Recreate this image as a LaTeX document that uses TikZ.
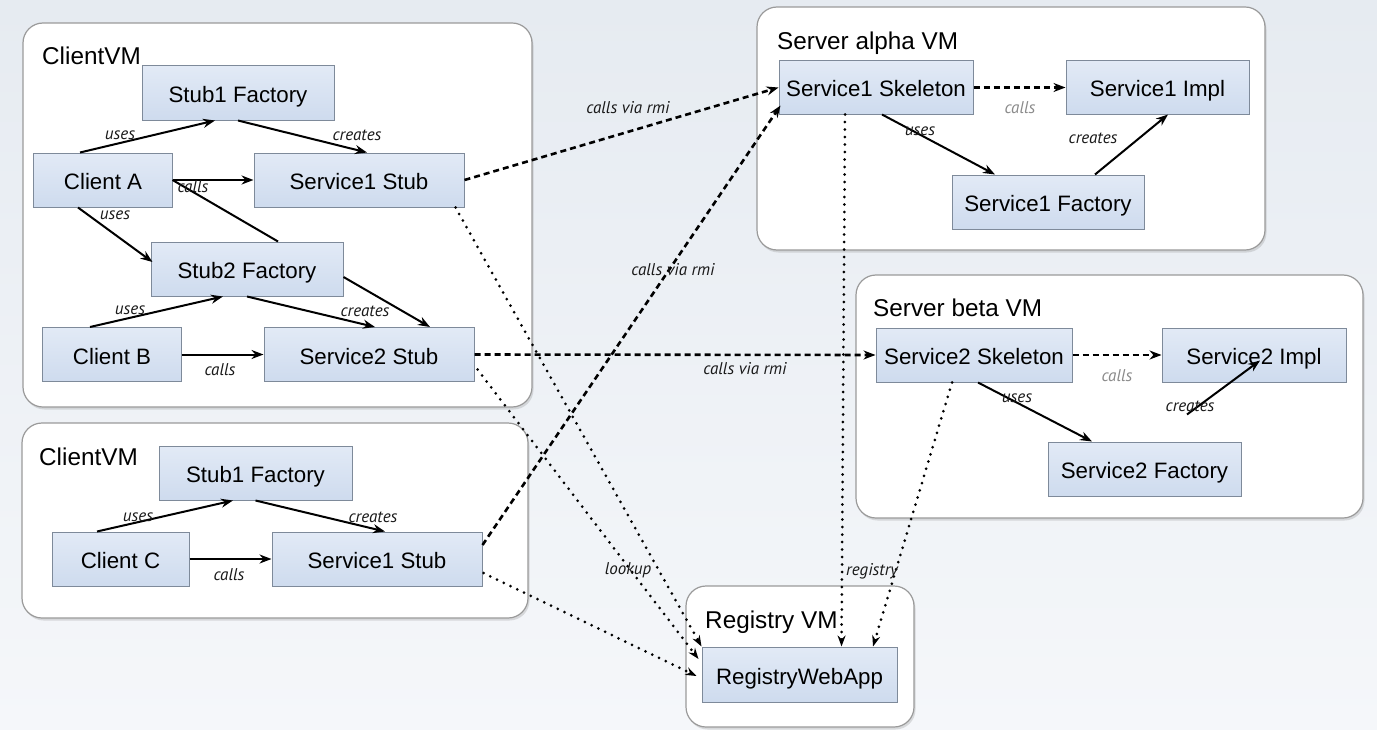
\documentclass[tikz,border=0pt]{standalone}
\usepackage{fontspec}
\setmainfont{Liberation Sans}
\newfontfamily\lblfont{PT Sans}
\usetikzlibrary{arrows.meta,calc,shadows}
\definecolor{boxtop}{HTML}{E2EAF6}
\definecolor{boxbot}{HTML}{CEDBEE}
\definecolor{boxline}{HTML}{7E8A9A}
\definecolor{vmline}{HTML}{9A9A9A}
\definecolor{bgA}{HTML}{E6EBF1}
\definecolor{bgB}{HTML}{F5F7FA}
\definecolor{lblgray}{HTML}{8A8A8A}
\begin{document}
\begin{tikzpicture}[x=1bp,y=-1bp,
  box/.style={draw=boxline, line width=1bp, top color=boxtop, bottom color=boxbot, minimum height=54bp, inner sep=0pt, text height=19bp, text depth=0pt, font=\fontsize{22.3bp}{26bp}\selectfont},
  vm/.style={draw=vmline, line width=1.2bp, fill=white, rounded corners=20bp, inner sep=0pt, drop shadow={shadow xshift=1.5bp, shadow yshift=-2.5bp, opacity=0.25}},
  vmtitle/.style={anchor=base west, inner sep=0pt, font=\fontsize{24.3bp}{28bp}\selectfont},
  lbl/.style={inner sep=0pt, text=black!90, font=\lblfont\itshape\fontsize{17bp}{20bp}\selectfont},
  glbl/.style={lbl, text=lblgray},
  arr/.style={line width=2bp, -{Stealth[length=12bp,width=9bp]}},
  plain/.style={line width=2bp},
  rmi/.style={line width=2.6bp, dash pattern=on 6bp off 4bp, -{Stealth[length=12bp,width=9bp]}},
  dots/.style={line width=3bp, line cap=round, dash pattern=on 0bp off 7.5bp, -{Stealth[length=11bp,width=8bp]}},
]
\useasboundingbox (0,0) rectangle (1377,729);
\fill[top color=bgA, bottom color=bgB] (0,0) rectangle (1377,729);

% containers
\node[vm, minimum width=509bp, minimum height=384bp] (vm1) at (277.5,215) {};
\node[vm, minimum width=506bp, minimum height=195bp] (vm2) at (275,520.5) {};
\node[vm, minimum width=508bp, minimum height=243bp] (vma) at (1011,128.5) {};
\node[vm, minimum width=507bp, minimum height=243bp] (vmb) at (1109.5,396.5) {};
\node[vm, minimum width=228bp, minimum height=141bp] (vmr) at (800,656.5) {};

% titles
\node[vmtitle] (t1) at (42,65) {ClientVM};
\node[vmtitle] (t2) at (39,465) {ClientVM};
\node[vmtitle] (ta) at (777,50) {Server alpha VM};
\node[vmtitle] (tb) at (873,316) {Server beta VM};
\node[vmtitle] (tr) at (705,628) {Registry VM};

% boxes
\node[box, minimum width=192bp] (sf1) at (238,93) {Stub1 Factory};
\node[box, minimum width=138bp] (ca) at (103,180) {Client A};
\node[box, minimum width=210bp] (s1s) at (359,180) {Service1 Stub};
\node[box, minimum width=192bp] (sf2) at (247,269) {Stub2 Factory};
\node[box, minimum width=138bp] (cb) at (112,354.5) {Client B};
\node[box, minimum width=210bp] (s2s) at (369,354.5) {Service2 Stub};
\node[box, minimum width=193bp] (sf3) at (255.5,473) {Stub1 Factory};
\node[box, minimum width=137bp] (cc) at (120.5,559) {Client C};
\node[box, minimum width=210bp] (s1t) at (377,559) {Service1 Stub};
\node[box, minimum width=194bp, minimum height=53bp] (sk1) at (876,87.5) {Service1 Skeleton};
\node[box, minimum width=183bp, minimum height=53bp] (im1) at (1157.5,87.5) {Service1 Impl};
\node[box, minimum width=192bp] (fa1) at (1048,202) {Service1 Factory};
\node[box, minimum width=196bp] (sk2) at (974,355) {Service2 Skeleton};
\node[box, minimum width=184bp] (im2) at (1254,355) {Service2 Impl};
\node[box, minimum width=193bp] (fa2) at (1144.5,469) {Service2 Factory};
\node[box, minimum width=195bp, minimum height=55bp] (rw) at (799.5,674.5) {RegistryWebApp};

% client VM 1
\draw[arr] ($(ca.north)+(-23,0)$) -- ($(sf1.south)+(-23,0)$);
\draw[arr] (sf1.south) -- ($(s1s.north)+(8,0)$);
\draw[arr] (ca.east) -- (s1s.west);
\draw[plain] (ca.east) -- ($(sf2.north)+(31,0)$);
\draw[arr] ($(ca.south)+(-25,0)$) -- ($(sf2.west)+(2,-7)$);
\draw[arr] ($(cb.north)+(-22,0)$) -- ($(sf2.south)+(-24,0)$);
\draw[arr] (sf2.south) -- ($(s2s.north)+(6,0)$);
\draw[arr] ($(sf2.east)+(0,8)$) -- ($(s2s.north)+(61,0)$);
\draw[arr] (cb.east) -- (s2s.west);
% client VM 2
\draw[arr] ($(cc.north)+(-23.5,0)$) -- ($(sf3.south)+(-22.5,0)$);
\draw[arr] (sf3.south) -- ($(s1t.north)+(8,0)$);
\draw[arr] (cc.east) -- (s1t.west);
% server alpha
\draw[rmi] (sk1.east) -- (im1.west);
\draw[arr] ($(sk1.south)+(6,0)$) -- ($(fa1.north)+(-53,0)$);
\draw[arr] ($(fa1.north)+(47,0)$) -- ($(im1.south)+(10.5,0)$);
% server beta
\draw[rmi] (sk2.east) -- (im2.west);
\draw[arr] ($(sk2.south)+(4,0)$) -- ($(fa2.north)+(-52.5,0)$);
\coordinate (cr2) at ($(fa2.north)+(42.5,-27)$);
\draw[arr] (cr2) -- ($(im2.south)+(6,-22)$);
% rmi calls
\draw[rmi] (s1s.east) -- (sk1.west);
\draw[rmi] (s2s.east) -- (sk2.west);
\draw[rmi] ($(s1t.east)+(0,-14)$) -- ($(sk1.south west)+(2,-9)$);
% registry
\draw[dots] ($(s1s.south east)+(-9,0)$) -- (rw.north west);
\draw[dots] ($(s2s.east)+(3,15)$) -- ($(rw.west)+(-3,-15.5)$);
\draw[dots] ($(s1t.east)+(1,14)$) -- ($(rw.west)+(-5,1.5)$);
\draw[dots] ($(sk1.south)+(-31,0)$) -- ($(rw.north)+(42,0)$);
\draw[dots] ($(sk2.south)+(-22,0)$) -- ($(rw.north)+(73.5,0)$);

% labels
\node[lbl] (l1) at (120,135) {uses};
\node[lbl] (l2) at (357,135) {creates};
\node[lbl] (l3) at (193,187) {calls};
\node[lbl] (l4) at (115,215) {uses};
\node[lbl] (l5) at (130,310) {uses};
\node[lbl] (l6) at (365,311) {creates};
\node[lbl] (l7) at (220,370) {calls};
\node[lbl] (l8) at (138,517) {uses};
\node[lbl] (l9) at (373,517) {creates};
\node[lbl] (l10) at (229,575) {calls};
\node[glbl] (l11) at (1020,108) {calls};
\node[lbl] (l12) at (920,131) {uses};
\node[lbl] (l13) at (1093,138) {creates};
\node[glbl] (l14) at (1117,376) {calls};
\node[lbl] (l15) at (1017,398) {uses};
\node[lbl] (l16) at (1190,406) {creates};
\node[lbl] (l17) at (628,108) {calls via rmi};
\node[lbl] (l18) at (673,270) {calls via rmi};
\node[lbl] (l19) at (745,369) {calls via rmi};
\node[lbl] (l20) at (628,570) {lookup};
\node[lbl] (l21) at (872,571) {registry};
\end{tikzpicture}
\end{document}
